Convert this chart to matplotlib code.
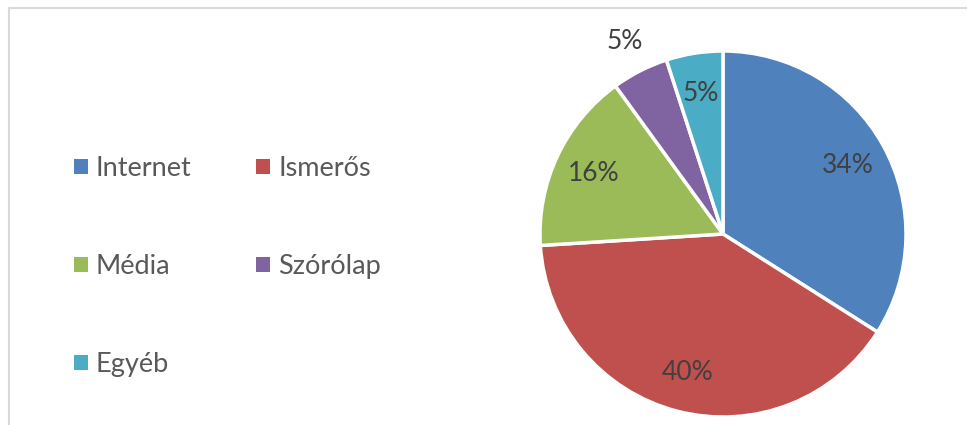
import numpy as np
import matplotlib.pyplot as plt
from matplotlib.patches import Patch
from matplotlib.lines import Line2D

# data
categories = ['Internet', 'Ismerős', 'Média', 'Szórólap', 'Egyéb']
shares = [34, 40, 16, 5, 5]
colors = ['#4F81BD', '#C0504D', '#9BBB59', '#8064A2', '#4BACC6']

plt.rcParams['font.family'] = ['Lato', 'DejaVu Sans']

W, H = 967, 425
fig = plt.figure(figsize=(W / 100, H / 100), dpi=100)

# chart area border (only top and left visible in the crop)
fig.add_artist(Line2D([8.5 / W, 1], [1 - 7.5 / H, 1 - 7.5 / H], color='#D9D9D9', lw=1.5))
fig.add_artist(Line2D([8.5 / W, 8.5 / W], [0, 1 - 7.5 / H], color='#D9D9D9', lw=1.5))

# pie axes: center (723, 234), radius 183 px
cx, cy, r = 723, 234, 183
ax = fig.add_axes([(cx - r) / W, 1 - (cy + r) / H, 2 * r / W, 2 * r / H])
wedges, texts, autotexts = ax.pie(
    shares, colors=colors, startangle=90, counterclock=False,
    autopct='%1.0f%%', pctdistance=0.78,
    wedgeprops=dict(edgecolor='white', linewidth=2.5),
    textprops=dict(fontsize=19, color='#404040'))
ax.set_xlim(-1, 1)
ax.set_ylim(-1, 1)
ax.set_aspect('equal')

# small slice label placed outside
w = wedges[3]
mid = np.deg2rad((w.theta1 + w.theta2) / 2)
autotexts[3].set_position((1.18 * np.cos(mid), 1.18 * np.sin(mid)))

# legend, row-wise order in two columns
order = [0, 2, 4, 1, 3]
handles = [Patch(facecolor=colors[i], edgecolor='none') for i in order]
labels = [categories[i] for i in order]
fig.legend(handles, labels, ncol=2, loc='upper left',
           bbox_to_anchor=(74 / W, 1 - 156 / H), frameon=False,
           fontsize=19.5, labelcolor='#595959', handlelength=0.5, handleheight=0.5,
           handletextpad=0.3, labelspacing=2.7, columnspacing=2.4, borderpad=0,
           borderaxespad=0)

fig.savefig('out.png', dpi=100)
